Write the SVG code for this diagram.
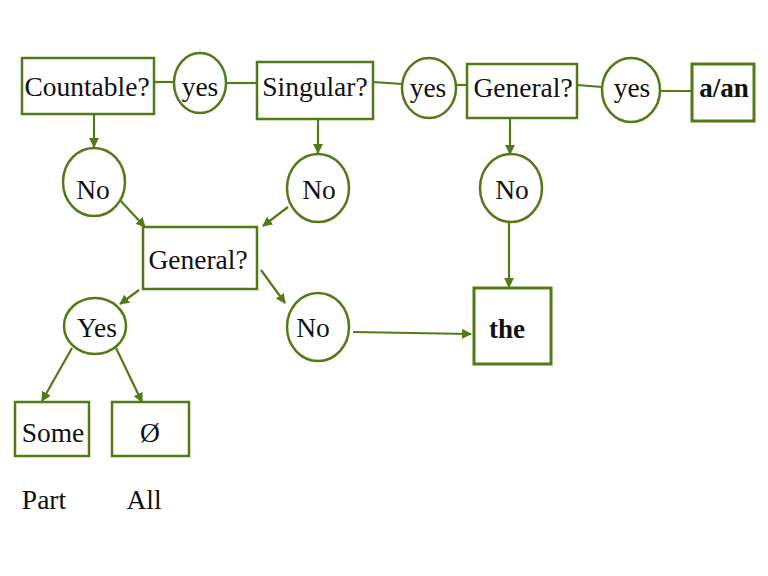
<svg xmlns="http://www.w3.org/2000/svg" width="768" height="576" viewBox="0 0 768 576">
<defs>
<style>
.n{fill:#fff;stroke:#527a16;stroke-width:2.5}
.b{fill:#fff;stroke:#527a16;stroke-width:3}
.c{fill:none;stroke:#527a16;stroke-width:2.2}
text{font-family:"Liberation Serif","Times New Roman",serif;font-size:27.5px;fill:#111;text-anchor:middle}
.bold{font-weight:bold;font-size:27px}
</style>
<marker id="ah" viewBox="0 0 10 10" refX="9" refY="5" markerWidth="4.5" markerHeight="4.5" orient="auto" markerUnits="strokeWidth">
<path d="M0,0 L10,5 L0,10 z" fill="#527a16"/>
</marker>
</defs>
<rect width="768" height="576" fill="#fff"/>
<g id="connectors">
<line class="c" x1="154" y1="82" x2="175" y2="82"/>
<line class="c" x1="226" y1="83" x2="257" y2="83"/>
<line class="c" x1="373" y1="82" x2="402" y2="84"/>
<line class="c" x1="456" y1="85" x2="467" y2="85"/>
<line class="c" x1="577" y1="85" x2="602" y2="87"/>
<line class="c" x1="659" y1="91" x2="692" y2="91"/>
<line class="c" x1="94" y1="114" x2="94" y2="147" marker-end="url(#ah)"/>
<line class="c" x1="318" y1="119" x2="318" y2="153" marker-end="url(#ah)"/>
<line class="c" x1="510" y1="118" x2="510" y2="154" marker-end="url(#ah)"/>
<line class="c" x1="118" y1="198" x2="145" y2="227" marker-end="url(#ah)"/>
<line class="c" x1="288" y1="207" x2="263" y2="226" marker-end="url(#ah)"/>
<line class="c" x1="509" y1="222" x2="509" y2="287" marker-end="url(#ah)"/>
<line class="c" x1="139" y1="290" x2="120" y2="304" marker-end="url(#ah)"/>
<line class="c" x1="261" y1="270" x2="285" y2="303" marker-end="url(#ah)"/>
<line class="c" x1="353" y1="332" x2="471" y2="334" marker-end="url(#ah)"/>
<line class="c" x1="72" y1="348" x2="42" y2="401" marker-end="url(#ah)"/>
<line class="c" x1="116" y1="348" x2="142" y2="402" marker-end="url(#ah)"/>
</g>
<g id="countable"><rect class="n" x="22" y="58" width="132" height="56"/><text x="87" y="96">Countable?</text></g>
<g id="yes1"><ellipse class="n" cx="200" cy="83" rx="26" ry="30"/><text x="200" y="96">yes</text></g>
<g id="singular"><rect class="n" x="257" y="62" width="116" height="57"/><text x="315" y="96">Singular?</text></g>
<g id="yes2"><ellipse class="n" cx="429" cy="88" rx="27" ry="30"/><text x="428" y="97">yes</text></g>
<g id="general1"><rect class="n" x="467" y="64" width="110" height="54"/><text x="523" y="97">General?</text></g>
<g id="yes3"><ellipse class="n" cx="631" cy="90" rx="29" ry="32"/><text x="632" y="97">yes</text></g>
<g id="aan"><rect class="b" x="692" y="64" width="62" height="57"/><text class="bold" x="724" y="97">a/an</text></g>
<g id="no1"><ellipse class="n" cx="94" cy="182" rx="31" ry="34"/><text x="93" y="199">No</text></g>
<g id="no2"><ellipse class="n" cx="318" cy="188" rx="31" ry="34"/><text x="319" y="199">No</text></g>
<g id="no4"><ellipse class="n" cx="511" cy="188" rx="31" ry="34"/><text x="512" y="199">No</text></g>
<g id="general2"><rect class="n" x="143" y="227" width="114" height="62"/><text x="198" y="269">General?</text></g>
<g id="yes4"><ellipse class="n" cx="95" cy="326" rx="31" ry="28"/><text x="97" y="337">Yes</text></g>
<g id="no3"><ellipse class="n" cx="318" cy="327" rx="31" ry="34"/><text x="313" y="337">No</text></g>
<g id="the"><rect class="b" x="474" y="288" width="77" height="76"/><text class="bold" x="507" y="338">the</text></g>
<g id="some"><rect class="n" x="15" y="402" width="74" height="54"/><text x="53" y="442">Some</text></g>
<g id="null"><rect class="n" x="112" y="402" width="77" height="54"/><text x="150" y="442">Ø</text></g>
<g id="labels"><text x="44" y="509">Part</text><text x="144" y="509">All</text></g>
</svg>
